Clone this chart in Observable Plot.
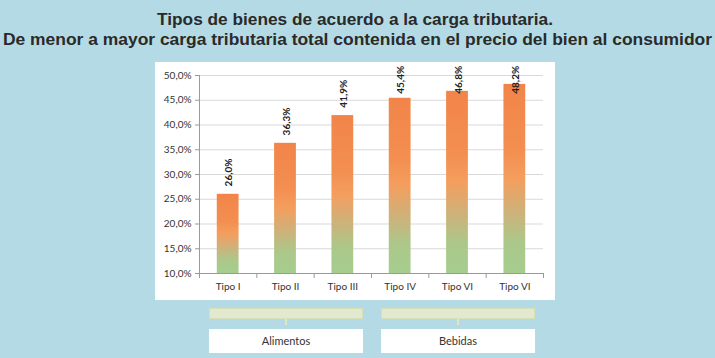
<!DOCTYPE html>
<html>
<head>
<meta charset="utf-8">
<script src="https://cdn.jsdelivr.net/npm/d3@7"></script>
<script src="https://cdn.jsdelivr.net/npm/@observablehq/plot@0.6"></script>
<style>
  html, body { margin: 0; padding: 0; }
  body { width: 715px; height: 358px; overflow: hidden; position: relative; background: #b4dbe5; font-family: Lato, "Open Sans", sans-serif; }
  #title { position: absolute; left: 0; top: 0; }
  #panel { position: absolute; left: 155px; top: 62px; width: 400px; height: 238px; background: #ffffff; }
  #panel svg { overflow: visible; }
  .bracket { position: absolute; top: 308px; height: 11px; width: 154px; background: #e3e9cf; border: 1px solid #d6e0b6; box-sizing: border-box; }
  .stem { position: absolute; top: 319px; width: 2px; height: 6px; background: #dfe7c4; }
  .group { position: absolute; top: 329px; height: 24px; width: 154px; background: #ffffff; color: #333; font-size: 11px; line-height: 24px; text-align: center; }
</style>
</head>
<body>
<svg id="title" width="715" height="60"></svg>
<div id="panel"></div>
<div id="groups"></div>
<script>
// ---- data ----
const titleLines = [
  "Tipos de bienes de acuerdo a la carga tributaria.",
  "De menor a mayor carga tributaria total contenida en el precio del bien al consumidor"
];
const categories = ["Tipo I", "Tipo II", "Tipo III", "Tipo IV", "Tipo VI", "Tipo VI"];
const values = [26.0, 36.3, 41.9, 45.4, 46.8, 48.2];
const yTicks = [10, 15, 20, 25, 30, 35, 40, 45, 50];
const groupNames = ["Alimentos", "Bebidas"];
const groupSpans = [[0, 3], [3, 6]]; // category index ranges per group

// ---- title ----
const tsvg = d3.select("#title");
const titleSpec = [
  {x: 157, y: 25, w: 396},
  {x: 3, y: 44.5, w: 709}
];
titleLines.forEach((t, i) => {
  tsvg.append("text")
    .attr("x", titleSpec[i].x).attr("y", titleSpec[i].y)
    .attr("textLength", titleSpec[i].w).attr("lengthAdjust", "spacingAndGlyphs")
    .attr("font-family", "'Liberation Sans Narrow', 'Liberation Sans', Arial, sans-serif")
    .attr("font-weight", "bold").attr("font-size", 16).attr("fill", "#2a2a2a")
    .text(t);
});

// ---- chart ----
const rows = values.map((v, i) => ({i, cat: categories[i], value: v}));
const pct = v => v.toFixed(1).replace(".", ",") + "%";

const chart = Plot.plot({
  width: 400,
  height: 238,
  marginLeft: 44,
  marginRight: 12,
  marginTop: 13,
  marginBottom: 27,
  style: {background: "transparent", fontFamily: "Lato, 'Open Sans', sans-serif", fontSize: "10px", color: "#333", overflow: "visible"},
  x: {domain: [0, categories.length], axis: null},
  y: {domain: [10, 50], axis: null},
  marks: [
    Plot.gridY(yTicks, {stroke: "#d9d9d9", strokeOpacity: 1}),
    Plot.axisY(yTicks, {tickSize: 4, tickPadding: 4, stroke: "#9a9a9a", strokeOpacity: 1, fill: "#333", tickFormat: pct, label: null}),
    Plot.rectY(rows, {x1: d => d.i + 0.31, x2: d => d.i + 0.69, y1: 10, y2: "value", fill: "url(#barGrad)"}),
    Plot.ruleX([0], {stroke: "#9a9a9a"}),
    Plot.ruleY([10], {stroke: "#9a9a9a"}),
    Plot.axisX(d3.range(categories.length + 1), {tickSize: 5, stroke: "#9a9a9a", strokeOpacity: 1, tickFormat: () => "", label: null}),
    Plot.axisX(d3.range(categories.length).map(i => i + 0.5), {tickSize: 0, tickPadding: 9, fill: "#333", tickFormat: d => categories[Math.floor(d)], label: null}),
    Plot.text(rows, {
      x: d => d.i + 0.5,
      y: d => Math.min(d.value + 1.6, 46.3),
      text: d => pct(d.value),
      rotate: -90,
      textAnchor: "start",
      fontWeight: "bold",
      fontSize: 10,
      fill: "#222",
      dx: 1
    })
  ]
});

const defs = d3.select(chart).insert("defs", ":first-child");
const grad = defs.append("linearGradient").attr("id", "barGrad")
  .attr("x1", 0).attr("y1", 0).attr("x2", 0).attr("y2", 1);
[[0, "#f2844a"], [0.35, "#f38f50"], [0.5, "#f49e5e"], [0.68, "#cdb27a"], [0.84, "#abc88a"], [1, "#a6cd8e"]]
  .forEach(([o, c]) => grad.append("stop").attr("offset", o).attr("stop-color", c));

document.getElementById("panel").appendChild(chart);

// ---- group brackets below, aligned with the chart's x scale ----
const xs = chart.scale("x");
const panelLeft = 155;
const g = d3.select("#groups");
groupNames.forEach((name, k) => {
  const [a, b] = groupSpans[k];
  const left = panelLeft + xs.apply(a) + 10;
  const right = panelLeft + xs.apply(b) - 8;
  const w = right - left;
  g.append("div").attr("class", "bracket").style("left", left + "px").style("width", w + "px");
  g.append("div").attr("class", "stem").style("left", (left + w / 2 - 1) + "px");
  g.append("div").attr("class", "group").style("left", left + "px").style("width", w + "px").text(name);
});
</script>
</body>
</html>
